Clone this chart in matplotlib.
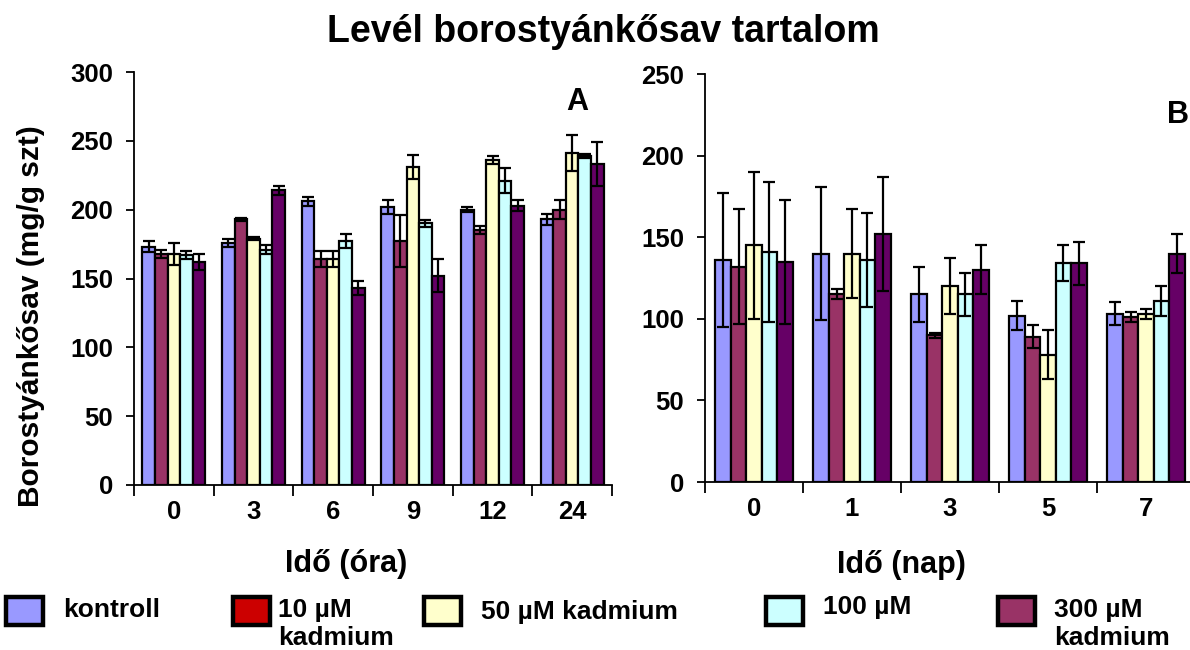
import matplotlib
matplotlib.use("Agg")
import matplotlib.pyplot as plt
import numpy as np
from matplotlib.patches import Rectangle

plt.rcParams['font.family'] = ['Liberation Sans', 'DejaVu Sans']
plt.rcParams['font.weight'] = 'bold'

# ---- data ----
series_names = ["kontroll", "10 µM\nkadmium", "50 µM kadmium", "100 µM", "300 µM\nkadmium"]
bar_colors = ["#9999FF", "#993366", "#FFFFCC", "#CCFFFF", "#660066"]
legend_colors = ["#9999FF", "#CC0000", "#FFFFCC", "#CCFFFF", "#993366"]

hours = ["0", "3", "6", "9", "12", "24"]
hours_mean = [
    [173, 176, 206, 202, 200, 193],   # kontroll
    [168, 193, 164, 177, 185, 200],   # 10 µM
    [168, 179, 164, 231, 236, 241],   # 50 µM
    [167, 171, 177, 190, 221, 239],   # 100 µM
    [162, 214, 143, 152, 203, 233],   # 300 µM
]
hours_err = [
    [4, 3, 3, 5, 2, 4],
    [3, 1, 6, 19, 3, 7],
    [8, 1, 6, 9, 3, 13],
    [3, 3, 5, 2.5, 9, 1.5],
    [6, 3.5, 5, 12, 4, 16],
]

days = ["0", "1", "3", "5", "7"]
days_mean = [
    [136, 140, 115, 102, 103],
    [132, 115, 90, 89, 101],
    [145, 140, 120, 78, 103],
    [141, 136, 115, 134, 111],
    [135, 152, 130, 134, 140],
]
days_err = [
    [41, 41, 17, 9, 7],
    [35, 3, 1.5, 7, 3],
    [45, 27, 17, 15, 3],
    [43, 29, 13, 11, 9],
    [38, 35, 15, 13, 12],
]

W, H = 1190, 650
fig = plt.figure(figsize=(W / 100, H / 100), dpi=100)


def fx(px):
    return px / W


def fy(py):
    return 1 - py / H


def draw_panel(ax, cats, means, errs, ymax, step):
    n = len(cats)
    x = np.arange(n)
    w = 0.158
    for i in range(len(means)):
        pos = x + (i - 2) * w
        ax.bar(pos, means[i], width=w, color=bar_colors[i], edgecolor="black",
               linewidth=1.6, zorder=2)
        ax.errorbar(pos, means[i], yerr=errs[i], fmt="none", ecolor="black",
                    elinewidth=1.6, capsize=4, capthick=1.6, zorder=3)
    ax.set_xlim(-0.5, n - 0.5)
    ax.set_ylim(0, ymax)
    ax.set_yticks(np.arange(0, ymax + 1, step))
    ax.set_xticks(np.arange(-0.5, n, 1.0))
    ax.set_xticklabels([])
    ax.set_xticks(x, minor=True)
    ax.set_xticklabels(cats, minor=True)
    ax.tick_params(axis="x", which="major", length=8, width=1.3, direction="out")
    ax.tick_params(axis="x", which="minor", length=0, pad=11, labelsize=18.5)
    ax.tick_params(axis="y", length=6, width=1.3, labelsize=18.5, pad=9)
    for lbl in ax.get_xticklabels(minor=True) + ax.get_yticklabels():
        lbl.set_fontweight("bold")
    for s in ["top", "right"]:
        ax.spines[s].set_visible(False)
    for s in ["left", "bottom"]:
        ax.spines[s].set_linewidth(1.3)


axA = fig.add_axes([fx(134), fy(485), 478 / W, 413 / H])
draw_panel(axA, hours, hours_mean, hours_err, 300, 50)

axB = fig.add_axes([fx(705), fy(482), 490 / W, 408 / H])
draw_panel(axB, days, days_mean, days_err, 250, 50)

# titles, axis labels and panel letters
fig.text(fx(603), fy(42), "Levél borostyánkősav tartalom", fontsize=27,
         fontweight="bold", ha="center", va="baseline")
fig.text(fx(31), fy(316), "Borostyánkősav (mg/g szt)", fontsize=21.5,
         fontweight="bold", ha="center", va="center", rotation=90)
fig.text(fx(346), fy(572), "Idő (óra)", fontsize=22, fontweight="bold",
         ha="center", va="baseline")
fig.text(fx(901), fy(573), "Idő (nap)", fontsize=22, fontweight="bold",
         ha="center", va="baseline")
fig.text(fx(577), fy(110), "A", fontsize=22, fontweight="bold",
         ha="center", va="baseline")
fig.text(fx(1167), fy(123), "B", fontsize=22, fontweight="bold",
         ha="left", va="baseline")

# legend
sq_x = [6, 233, 424, 766, 998]
txt_x = [63, 278, 481, 823, 1054]
line1_base = [617, 617, 619, 614, 617]
for i in range(5):
    r = Rectangle((fx(sq_x[i]), fy(625)), 37 / W, 28 / H,
                  transform=fig.transFigure, facecolor=legend_colors[i],
                  edgecolor="black", linewidth=3.2)
    fig.add_artist(r)
    lines = series_names[i].split("\n")
    for k, line in enumerate(lines):
        fig.text(fx(txt_x[i]), fy(line1_base[i] + 28 * k), line, fontsize=19,
                 fontweight="bold", ha="left", va="baseline")

fig.savefig("out.png", dpi=100)
